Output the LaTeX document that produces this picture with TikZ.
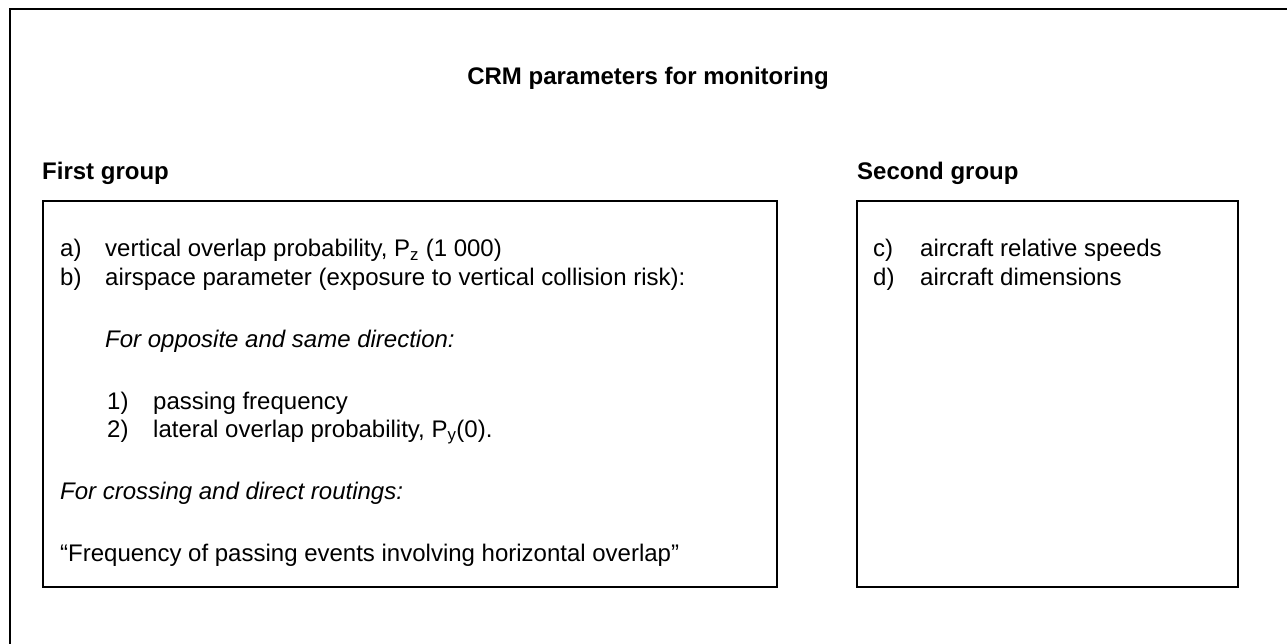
\documentclass[tikz,border=0pt]{standalone}
\usepackage{fontspec}
\setmainfont{Liberation Sans}
\begin{document}
\begin{tikzpicture}[x=1pt,y=-1pt,
  txt/.style={anchor=base west, inner sep=0pt, font=\fontsize{24}{27.6}\selectfont},
  hd/.style={anchor=base west, inner sep=0pt, font=\fontsize{24}{27.6}\selectfont\bfseries},
  ital/.style={anchor=base west, inner sep=0pt, font=\fontsize{24}{27.6}\selectfont\itshape},
  frameline/.style={line width=1.4pt, line cap=rect},
  boxline/.style={line width=1.3pt}]
\useasboundingbox (0,0) rectangle (1287,644);
% outer frame (only top and left visible)
\draw[frameline] (10,644) -- (10,9) -- (1287,9);
% title
\node[hd, anchor=base] (title) at (648,85) {CRM parameters for monitoring};
% group headings
\node[hd] (g1) at (42,180) {First group};
\node[hd] (g2) at (857,180) {Second group};
% boxes
\draw[boxline] (43,201) rectangle (777,587);
\draw[boxline] (857,201) rectangle (1238,587);
% first group contents
\node[txt] (la) at (60,257) {a)};
\node[txt] (ta) at (105,257) {vertical overlap probability, P\textsubscript{z} (1 000)};
\node[txt] (lb) at (60,285) {b)};
\node[txt] (tb) at (105,285) {airspace parameter (exposure to vertical collision risk):};
\node[ital] (opp) at (105,347) {For opposite and same direction:};
\node[txt] (l1) at (107,409) {1)};
\node[txt] (t1) at (153,409) {passing frequency};
\node[txt] (l2) at (107,437) {2)};
\node[txt] (t2) at (153,437) {lateral overlap probability, P\textsubscript{y}(0).};
\node[ital] (cross) at (60,499) {For crossing and direct routings:};
\node[txt] (freq) at (60,561) {“Frequency of passing events involving horizontal overlap”};
% second group contents
\node[txt] (lc) at (873,257) {c)};
\node[txt] (tc) at (920,257) {aircraft relative speeds};
\node[txt] (ld) at (873,285) {d)};
\node[txt] (td) at (920,285) {aircraft dimensions};
\end{tikzpicture}
\end{document}
